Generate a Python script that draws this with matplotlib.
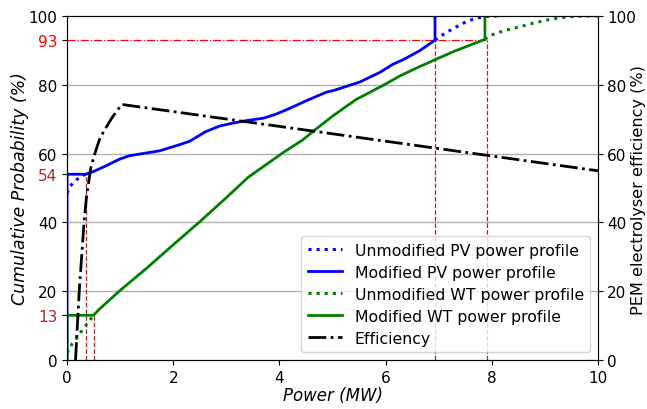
import numpy as np
import matplotlib.pyplot as plt

# === Data ===
# modified PV cumulative curve (power MW, probability %)
pv_mod_x = [0.0, 0.0, 0.35, 0.5, 0.74, 0.99, 1.18, 1.5, 1.74, 2.12, 2.31, 2.44, 2.6, 2.87,
            3.1, 3.38, 3.7, 3.94, 4.2, 4.51, 4.89, 5.01, 5.51, 5.89, 6.14, 6.33, 6.64, 6.93, 6.93]
pv_mod_y = [0.0, 54.0, 54.0, 54.8, 56.5, 58.4, 59.4, 60.2, 60.8, 62.6, 63.6, 64.8, 66.3, 68.0,
            68.8, 69.6, 70.3, 71.5, 73.2, 75.4, 77.9, 78.3, 80.8, 83.6, 86.0, 87.3, 89.9, 93.0, 100.0]

# unmodified PV: tails differ from the modified one
pv_raw_lo_x = [0.0, 0.05, 0.11, 0.18, 0.24, 0.3, 0.35]
pv_raw_lo_y = [48.5, 50.3, 51.4, 52.4, 53.1, 53.6, 54.0]
pv_raw_hi_x = [6.93, 7.1, 7.3, 7.46, 7.6, 7.75, 7.9, 8.1]
pv_raw_hi_y = [93.0, 94.8, 96.6, 97.9, 98.8, 99.5, 99.9, 100.0]

# modified WT
wt_mod_x = [0.0, 0.0, 0.5, 0.61, 0.99, 1.5, 2.0, 2.5, 3.0, 3.41, 4.07, 4.44, 4.67, 5.01,
            5.45, 5.64, 6.02, 6.27, 6.6, 6.93, 7.3, 7.6, 7.87, 7.87]
wt_mod_y = [0.0, 13.0, 13.0, 14.8, 20.1, 26.7, 33.5, 40.2, 47.2, 53.1, 60.3, 64.0, 66.9, 71.0,
            75.8, 77.3, 80.4, 82.6, 85.0, 87.3, 89.8, 91.6, 93.2, 100.0]

# unmodified WT
wt_raw_lo_x = [0.0, 0.1, 0.17, 0.25, 0.33, 0.42, 0.5]
wt_raw_lo_y = [2.0, 4.8, 6.1, 7.9, 9.6, 11.3, 13.0]
wt_raw_hi_x = [7.87, 7.96, 8.2, 8.53, 8.8, 9.03, 9.25, 9.47, 9.7, 10.0]
wt_raw_hi_y = [93.2, 94.3, 95.6, 96.9, 98.0, 98.8, 99.4, 99.8, 100.0, 100.0]

# PEM electrolyser efficiency
eff_x = [0.16, 0.23, 0.32, 0.37, 0.45, 0.53, 0.62, 0.72, 0.85, 1.03, 10.0]
eff_y = [0.0, 20.0, 40.0, 48.0, 56.0, 60.3, 64.5, 67.2, 70.5, 74.3, 55.0]

# marker values
p93_pv, p93_wt = 6.93, 7.9
p54_pv, p13_wt = 0.35, 0.5

left_ticks = [0, 13, 20, 40, 54, 60, 80, 93, 100]
left_tick_colors = {13: 'brown', 54: 'brown', 93: 'red'}

# === Plot ===
fig = plt.figure(figsize=(6.47, 4.10), dpi=100)
ax = fig.add_axes([0.1036, 0.1195, 0.8207, 0.839])
ax2 = ax.twinx()

for g in [20, 40, 60, 80]:
    ax.axhline(g, color='#b0b0b0', lw=1, zorder=0)

ax.plot([0, p93_wt], [93, 93], color='red', lw=0.9, ls='-.')
ax.plot([p93_pv, p93_pv], [0, 93], color='red', lw=0.9, ls='--')
ax.plot([p93_wt, p93_wt], [0, 93], color='red', lw=0.9, ls='--')
ax.plot([p54_pv, p54_pv], [0, 54], color='brown', lw=0.9, ls='--')
ax.plot([p13_wt, p13_wt], [0, 13], color='brown', lw=0.9, ls='--')

pv_raw_x = pv_raw_lo_x + [np.nan] + pv_raw_hi_x
pv_raw_y = pv_raw_lo_y + [np.nan] + pv_raw_hi_y
wt_raw_x = wt_raw_lo_x + [np.nan] + wt_raw_hi_x
wt_raw_y = wt_raw_lo_y + [np.nan] + wt_raw_hi_y

l1, = ax.plot(pv_raw_x, pv_raw_y, color='blue', ls=':', lw=2.2, label='Unmodified PV power profile')
l2, = ax.plot(pv_mod_x, pv_mod_y, color='blue', lw=2, label='Modified PV power profile')
l3, = ax.plot(wt_raw_x, wt_raw_y, color='green', ls=':', lw=2.2, label='Unmodified WT power profile')
l4, = ax.plot(wt_mod_x, wt_mod_y, color='green', lw=2, label='Modified WT power profile')
l5, = ax2.plot(eff_x, eff_y, color='black', ls='-.', lw=2, label='Efficiency')

ax.set_xlim(0, 10)
ax.set_ylim(0, 100)
ax2.set_ylim(0, 100)
ax.set_yticks(left_ticks)
for lab, v in zip(ax.get_yticklabels(), left_ticks):
    lab.set_color(left_tick_colors.get(v, 'black'))
ax2.set_yticks([0, 20, 40, 60, 80, 100])

ax.tick_params(labelsize=11)
ax2.tick_params(labelsize=11, pad=3)
ax.set_xlabel('Power (MW)', fontsize=12, style='italic', labelpad=1)
ax.set_ylabel('Cumulative Probability (%)', fontsize=12.5, style='italic')
ax.yaxis.set_label_coords(-0.072, 0.5)
# right label placed by hand so it stays inside the canvas
fig.text(638.5 / 647, 1 - 190 / 410, 'PEM electrolyser efficiency (%)', fontsize=11.6,
         rotation=90, ha='center', va='center')

ax2.legend(handles=[l1, l2, l3, l4, l5], loc='lower right', fontsize=11.3,
           handlelength=2.2, borderpad=0.4, labelspacing=0.45)

plt.savefig('out.png', dpi=100)
